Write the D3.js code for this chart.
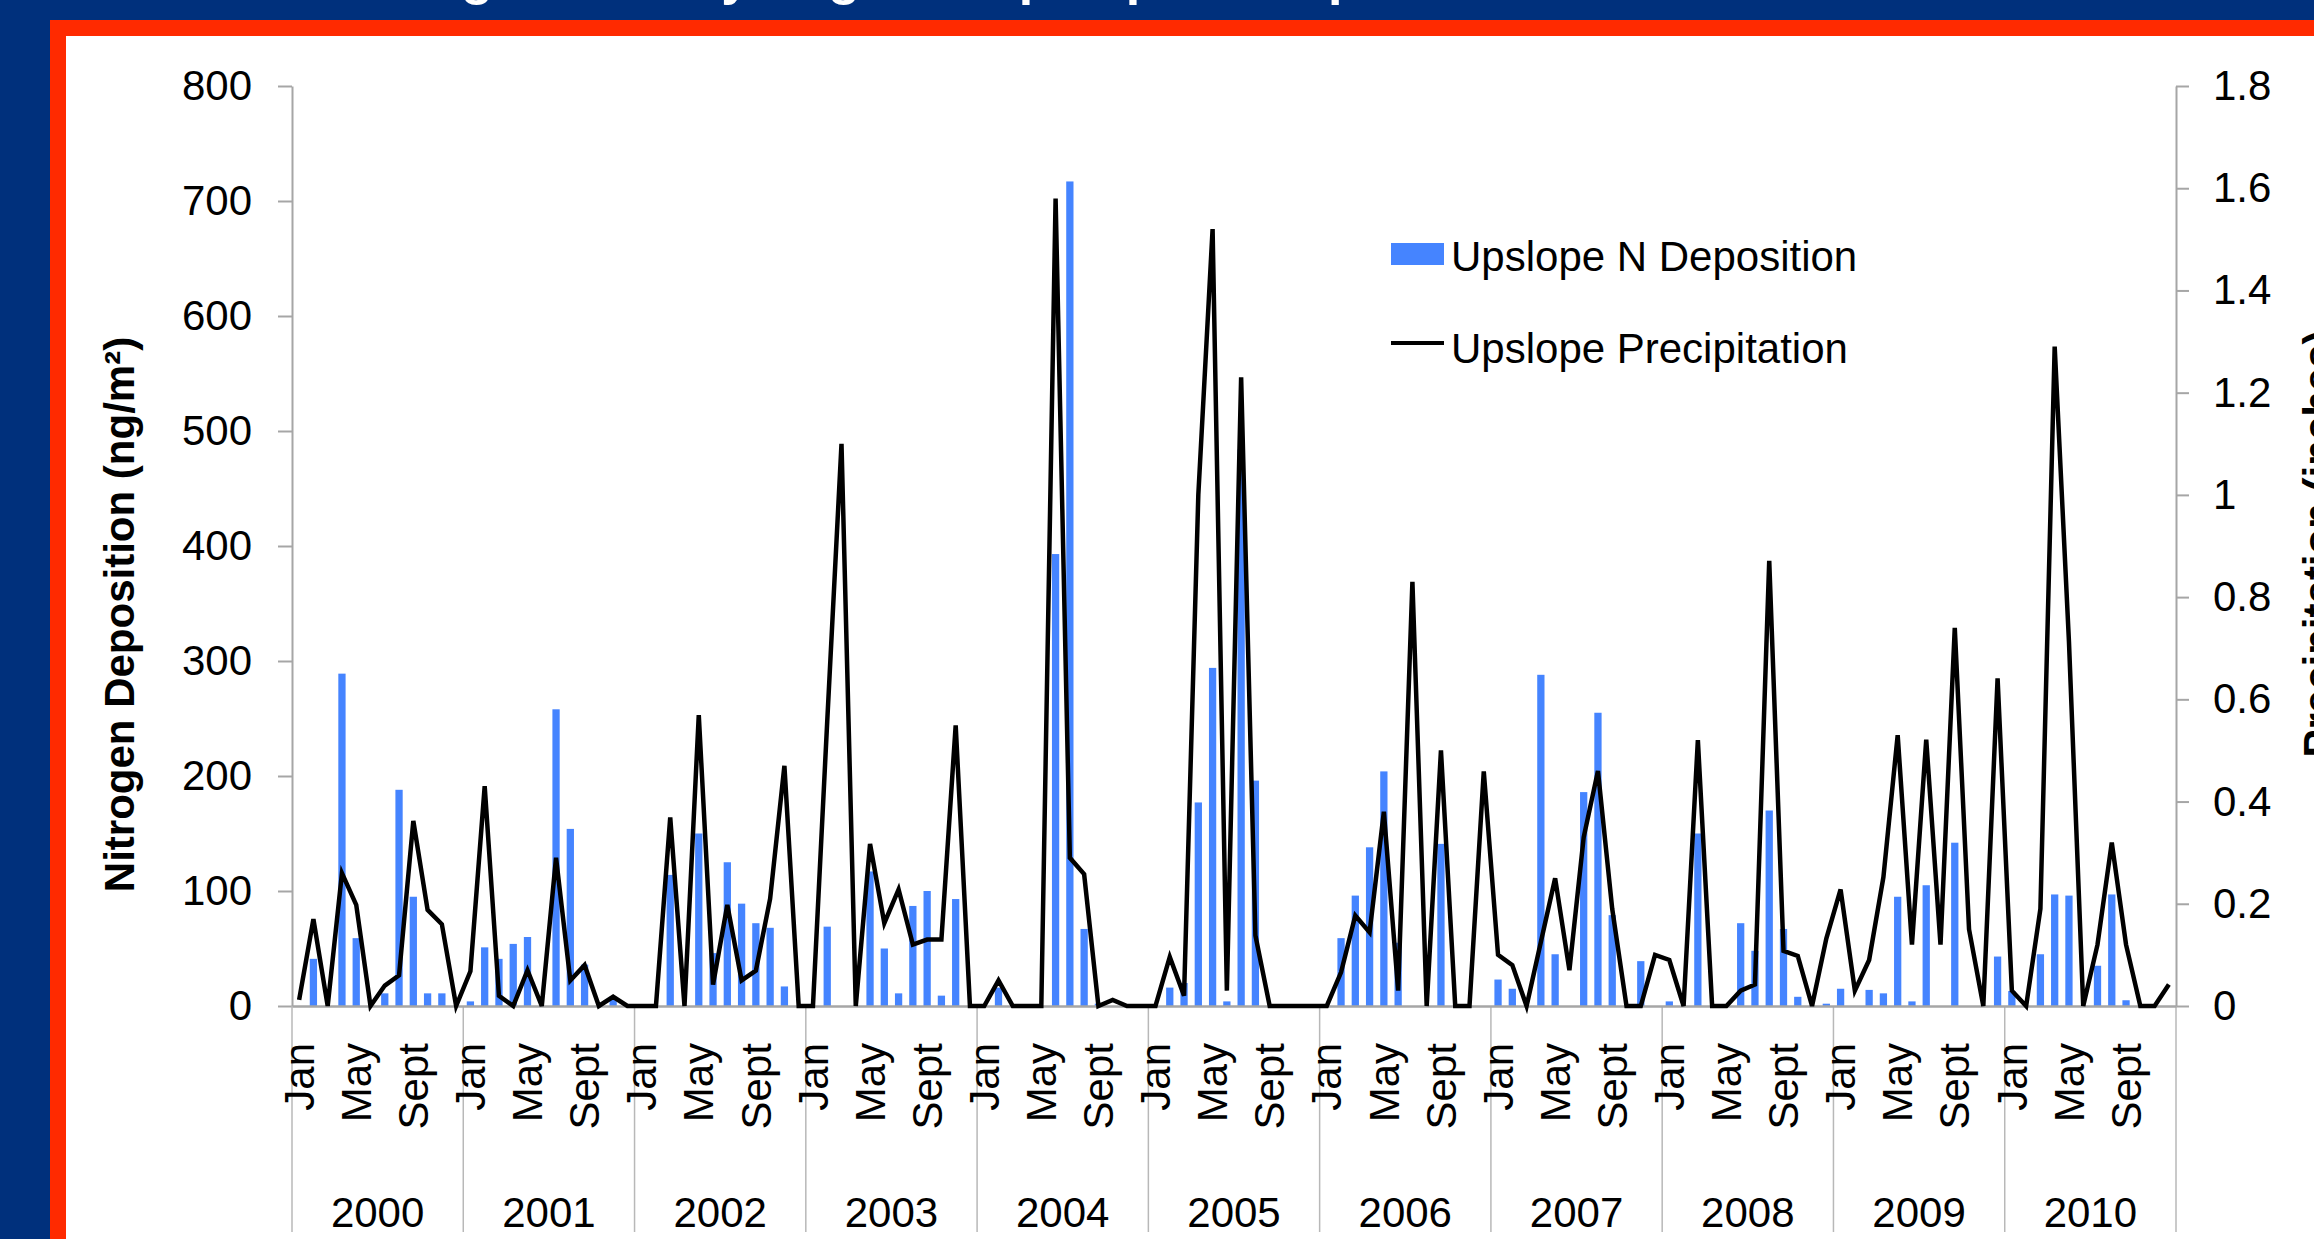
<!DOCTYPE html>
<html>
<head>
<meta charset="utf-8">
<script src="https://cdn.jsdelivr.net/npm/d3@7"></script>
<style>
  body { margin: 0; background: #fff; }
  svg { display: block; font-family: Arial, "Liberation Sans", Helvetica, sans-serif; }
</style>
</head>
<body>
<div id="chart"></div>
<script>
// categorias
const years = [2000, 2001, 2002, 2003, 2004, 2005, 2006, 2007, 2008, 2009, 2010];
const monthTickIdx = [0, 4, 8];
const monthTickText = ["Jan", "May", "Sept"];

// Upslope N Deposition (ng/m2), Jan..Dec por año
const depositionN = [
    0, 41, 0, 289, 59, 0, 11, 188, 95, 11, 11, 0,
    4, 51, 41, 54, 60, 0, 258, 154, 36, 0, 8, 0,
    0, 0, 114, 0, 150, 46, 125, 89, 72, 68, 17, 0,
    0, 69, 0, 0, 117, 50, 11, 87, 100, 9, 93, 0,
    0, 16, 0, 0, 0, 393, 717, 67, 2, 0, 0, 0,
    0, 16, 20, 177, 294, 4, 484, 196, 0, 0, 0, 0,
    0, 59, 96, 138, 204, 55, 0, 0, 141, 0, 0, 0,
    23, 15, 0, 288, 45, 0, 186, 255, 79, 0, 39, 0,
    4, 0, 150, 0, 0, 72, 48, 170, 67, 8, 0, 2,
    15, 0, 14, 11, 95, 4, 105, 0, 142, 0, 0, 43,
    13, 0, 45, 97, 96, 0, 35, 97, 5, 0, 0, 0
];

// Upslope Precipitation (inches)
const precipitation = [
    0.012, 0.17, 0, 0.26, 0.198, 0, 0.04, 0.06, 0.362, 0.188, 0.16, 0,
    0.068, 0.43, 0.02, 0, 0.07, 0, 0.29, 0.05, 0.08, 0, 0.018, 0,
    0, 0, 0.369, 0, 0.569, 0.042, 0.198, 0.05, 0.069, 0.21, 0.47, 0,
    0, 0.557, 1.10, 0, 0.317, 0.162, 0.228, 0.12, 0.13, 0.13, 0.549, 0,
    0, 0.05, 0, 0, 0, 1.58, 0.29, 0.258, 0, 0.012, 0, 0,
    0, 0.096, 0.02, 1.0, 1.52, 0.03, 1.23, 0.138, 0, 0, 0, 0,
    0, 0.066, 0.177, 0.144, 0.38, 0.03, 0.83, 0, 0.50, 0, 0, 0.459,
    0.10, 0.08, 0, 0.125, 0.25, 0.07, 0.33, 0.46, 0.19, 0, 0, 0.10,
    0.09, 0, 0.52, 0, 0, 0.03, 0.042, 0.871, 0.108, 0.098, 0, 0.132,
    0.228, 0.03, 0.09, 0.252, 0.53, 0.12, 0.521, 0.12, 0.74, 0.15, 0, 0.641,
    0.03, 0, 0.19, 1.29, 0.713, 0, 0.12, 0.32, 0.12, 0, 0, 0.042
];

const leftTicks = [0, 100, 200, 300, 400, 500, 600, 700, 800];
const rightTicks = [0, 0.2, 0.4, 0.6, 0.8, 1, 1.2, 1.4, 1.6, 1.8];

const W = 2314, H = 1239;
const plot = { left: 292, right: 2176, top: 86, bottom: 1006 };
const barColor = "#4584ff";
const axisGray = "#a6a6a6";

const rows = years.flatMap((yr, yi) => d3.range(12).map((m) => ({
    key: yr + "-" + m,
    year: yr,
    month: m,
    dep: depositionN[yi * 12 + m],
    prec: precipitation[yi * 12 + m],
})));

var svg = d3.select("#chart")
    .append("svg")
    .attr("width", W)
    .attr("height", H)
    .attr("viewBox", `0 0 ${W} ${H}`);

// marco del slide (azul / rojo / blanco)
svg.append("rect").attr("width", W).attr("height", H).attr("fill", "#00307c");
svg.append("text")
    .attr("x", 340)
    .attr("y", -6)
    .attr("fill", "#fff")
    .style("font-size", "52px")
    .style("font-weight", "bold")
    .text("Nitrogen Flux by Fog and Upslope Precipitation");
svg.append("rect").attr("x", 50).attr("y", 20).attr("width", W - 50).attr("height", H - 20).attr("fill", "#ff2a00");
svg.append("rect").attr("x", 66).attr("y", 36).attr("width", W - 66).attr("height", H - 36).attr("fill", "#fff");

// escalas
const x = d3.scaleBand()
    .domain(rows.map((d) => d.key))
    .range([plot.left, plot.right])
    .paddingInner(0.49)
    .paddingOuter(0.245);
const xc = (d) => x(d.key) + x.bandwidth() / 2;

const xYear = d3.scaleBand()
    .domain(years)
    .range([plot.left, plot.right]);

const yLeft = d3.scaleLinear().domain([0, 800]).range([plot.bottom, plot.top]);
const yRight = d3.scaleLinear().domain([0, 1.8]).range([plot.bottom, plot.top]);

// eje izquierdo
const gLeft = svg.append("g")
    .attr("transform", `translate(${plot.left},0)`)
    .call(d3.axisLeft(yLeft).tickValues(leftTicks).tickSize(14).tickSizeOuter(0).tickPadding(26));

// eje derecho
const gRight = svg.append("g")
    .attr("transform", `translate(${plot.right},0)`)
    .call(d3.axisRight(yRight).tickValues(rightTicks).tickSize(13).tickSizeOuter(0).tickPadding(24)
        .tickFormat((d) => String(+d.toFixed(1))));

[gLeft, gRight].forEach((g) => {
    g.select(".domain").attr("stroke", axisGray).attr("stroke-width", 2);
    g.selectAll(".tick line").attr("stroke", axisGray).attr("stroke-width", 2);
    g.selectAll(".tick text")
        .attr("fill", "#000")
        .style("font-size", "42px")
        .style("font-family", "Arial, 'Liberation Sans', sans-serif");
});

// separadores de año
svg.append("g")
    .selectAll("line")
    .data(years.concat(["end"]))
    .enter()
    .append("line")
    .attr("x1", (d) => d === "end" ? plot.right : xYear(d))
    .attr("x2", (d) => d === "end" ? plot.right : xYear(d))
    .attr("y1", plot.bottom)
    .attr("y2", 1232)
    .attr("stroke", "#b8b8b8")
    .attr("stroke-width", 1.5);

// barras
svg.append("g")
    .selectAll("rect")
    .data(rows.filter((d) => d.dep > 0))
    .enter()
    .append("rect")
    .attr("x", (d) => x(d.key))
    .attr("width", x.bandwidth())
    .attr("y", (d) => yLeft(d.dep))
    .attr("height", (d) => yLeft(0) - yLeft(d.dep))
    .attr("fill", barColor);

// eje x (linea base)
const gBottom = svg.append("g")
    .attr("transform", `translate(0,${plot.bottom})`)
    .call(d3.axisBottom(x).tickValues([]).tickSizeOuter(0));
gBottom.select(".domain").attr("stroke", axisGray).attr("stroke-width", 2.5);

// linea de precipitacion
var line = d3.line()
    .x(xc)
    .y((d) => yRight(d.prec));

svg.append("path")
    .datum(rows)
    .attr("fill", "none")
    .attr("stroke", "#000")
    .attr("stroke-width", 4.5)
    .attr("d", line);

// etiquetas de mes (rotadas)
svg.append("g")
    .selectAll("text")
    .data(rows.filter((d) => monthTickIdx.includes(d.month)))
    .enter()
    .append("text")
    .attr("transform", (d) => `translate(${xc(d)},1043) rotate(-90)`)
    .attr("text-anchor", "end")
    .attr("dy", "0.35em")
    .style("font-size", "42px")
    .text((d) => monthTickText[monthTickIdx.indexOf(d.month)]);

// etiquetas de año
svg.append("g")
    .selectAll("text")
    .data(years)
    .enter()
    .append("text")
    .attr("x", (d) => xYear(d) + xYear.bandwidth() / 2)
    .attr("y", 1227)
    .attr("text-anchor", "middle")
    .style("font-size", "42px")
    .text((d) => d);

// titulos ejes
svg.append("text")
    .attr("transform", `translate(134,${(336 + 893) / 2}) rotate(-90)`)
    .attr("text-anchor", "middle")
    .style("font-size", "42px")
    .style("font-weight", "bold")
    .text("Nitrogen Deposition (ng/m²)");

svg.append("text")
    .attr("transform", `translate(2333,544) rotate(-90)`)
    .attr("text-anchor", "middle")
    .style("font-size", "42px")
    .style("font-weight", "bold")
    .text("Precipitation (inches)");

// leyenda
const legend = svg.append("g");
legend.append("rect")
    .attr("x", 1391).attr("y", 243)
    .attr("width", 53).attr("height", 22)
    .attr("fill", barColor);
legend.append("text")
    .attr("x", 1451).attr("y", 271)
    .style("font-size", "42px")
    .text("Upslope N Deposition");
legend.append("line")
    .attr("x1", 1391).attr("x2", 1444)
    .attr("y1", 343).attr("y2", 343)
    .attr("stroke", "#000").attr("stroke-width", 4);
legend.append("text")
    .attr("x", 1451).attr("y", 363)
    .style("font-size", "42px")
    .text("Upslope Precipitation");
</script>
</body>
</html>
